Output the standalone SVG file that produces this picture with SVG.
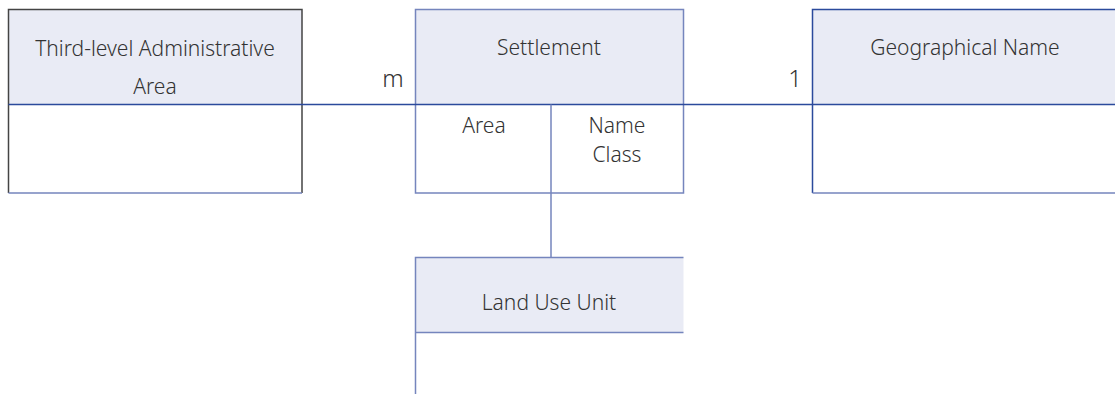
<svg xmlns="http://www.w3.org/2000/svg" width="1115" height="394" viewBox="0 0 1115 394">
<style>
.hdr{fill:#e9ebf5;stroke:none}
.t{font-family:"Noto Sans","Open Sans","Liberation Sans",sans-serif;font-weight:300;font-size:21px;fill:#333;text-anchor:middle}
.c{font-size:24px}
.bl{stroke:#7585bd;stroke-width:1.5;fill:none}
.dk{stroke:#444;stroke-width:1.5;fill:none}
.ln{stroke:#2b4a9c;stroke-width:1.5;fill:none}
</style>
<rect width="1115" height="394" fill="#fff"/>
<g id="third-level-area">
<rect class="hdr" x="8.5" y="9.5" width="293.5" height="95"/>
<path class="dk" d="M8.5 193V9.5H302V193"/>
<path class="bl" d="M8.5 193H302"/>
<text class="t" x="155" y="56">Third-level Administrative</text>
<text class="t" x="155" y="94">Area</text>
</g>
<g id="settlement">
<rect class="hdr" x="415.5" y="9.5" width="268" height="95"/>
<rect class="bl" x="415.5" y="9.5" width="268" height="183.5"/>
<text class="t" x="549" y="55">Settlement</text>
<text class="t" x="484" y="133">Area</text>
<text class="t" x="617" y="133">Name</text>
<text class="t" x="617" y="162">Class</text>
</g>
<g id="geographical-name">
<rect class="hdr" x="812.5" y="9.5" width="303" height="95"/>
<path class="ln" d="M1116 9.5H812.5V193"/>
<path class="bl" d="M812.5 193H1116"/>
<text class="t" x="965" y="55">Geographical Name</text>
</g>
<g id="land-use-unit">
<rect class="hdr" x="415.5" y="257.5" width="268" height="75"/>
<path class="bl" d="M683.5 257.5H415.5V395M415.5 332.5H683.5"/>
<text class="t" x="549" y="310">Land Use Unit</text>
</g>
<g id="connectors">
<path class="ln" d="M8.5 104.5H1116"/>
<path class="bl" d="M551 104.5V257.5"/>
<text class="t c" x="393" y="87">m</text>
<text class="t c" x="795" y="87">1</text>
</g>
</svg>
